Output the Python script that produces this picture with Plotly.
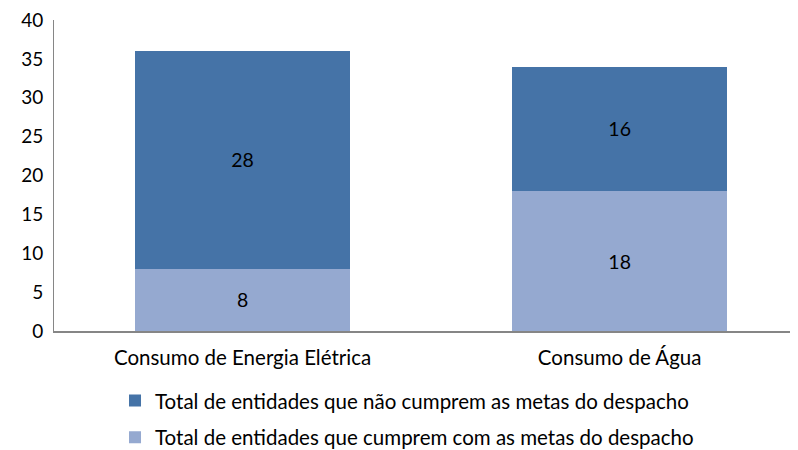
import plotly.graph_objects as go

categories = ["Consumo de Energia Elétrica", "Consumo de Água"]
cumprem = [8, 18]
nao_cumprem = [28, 16]
name_cumprem = "Total de entidades que cumprem com as metas do despacho"
name_nao = "Total de entidades que não cumprem as metas do despacho"
y_ticks = [0, 5, 10, 15, 20, 25, 30, 35, 40]

FONT = "Lato"
fig = go.Figure()
fig.add_trace(go.Bar(
    x=categories, y=cumprem, name=name_cumprem,
    marker=dict(color="#95A9D0", line=dict(width=0)),
    text=cumprem, textposition="inside", insidetextanchor="middle",
    textfont=dict(color="#000000", size=19.5, family=FONT),
    legendgroup="b", legendrank=2,
))
fig.add_trace(go.Bar(
    x=categories, y=nao_cumprem, name=name_nao,
    marker=dict(color="#4573A7", line=dict(width=0)),
    text=nao_cumprem, textposition="inside", insidetextanchor="middle",
    textfont=dict(color="#000000", size=19.5, family=FONT),
    legendgroup="a", legendrank=1,
))
fig.update_layout(
    width=790, height=442,
    barmode="stack", bargap=0.43,
    plot_bgcolor="white", paper_bgcolor="white",
    margin=dict(l=46, r=0, t=12, b=119, autoexpand=False),
    font=dict(family=FONT, size=20, color="#000000"),
    xaxis=dict(range=[-0.5, 1.473], showline=True, linecolor="#868686", linewidth=1.5,
               ticks="", tickfont=dict(size=20.5), showgrid=False, automargin=False,
               ticklabelstandoff=8),
    yaxis=dict(range=[0, 40], tickvals=y_ticks, showline=True, linecolor="#868686", linewidth=1,
               ticks="", showgrid=False, zeroline=False, tickfont=dict(size=19),
               ticklabelstandoff=6, automargin=False, ticklabeloverflow="allow"),
    legend=dict(orientation="v", x=0.082, xanchor="left", y=-0.16, yanchor="top",
                font=dict(size=20.5), tracegroupgap=7, traceorder="grouped"),
    showlegend=True,
)
fig.write_html("out.html")
